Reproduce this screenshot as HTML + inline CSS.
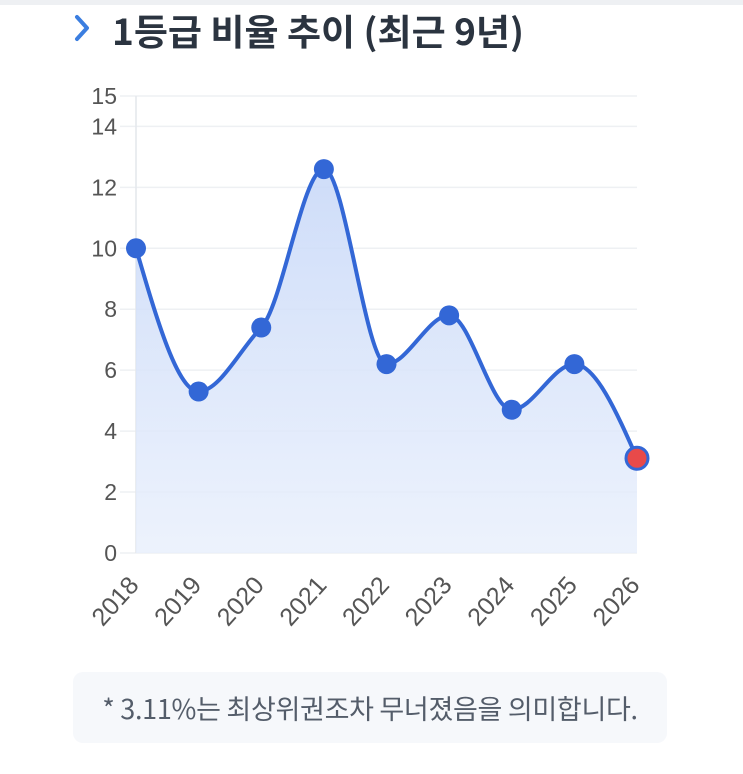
<!DOCTYPE html>
<html><head><meta charset="utf-8"><style>
html,body{margin:0;padding:0;background:#fff;}
body{width:743px;height:774px;overflow:hidden;position:relative;font-family:"Liberation Sans","Noto Sans CJK KR",sans-serif;}
.top{position:absolute;left:0;top:0;width:743px;height:5px;background:#eef0f3;}
.note{position:absolute;left:73px;top:672px;width:594px;height:71px;background:#f6f8fb;border-radius:10px;color:#545d6a;font-size:27px;text-align:center;line-height:71px;font-family:"Noto Sans CJK KR",sans-serif;letter-spacing:-0.3px;white-space:nowrap;}
</style></head><body>
<div class="top"></div>
<svg width="743" height="774" style="position:absolute;left:0;top:0">
<defs><linearGradient id="g" x1="0" y1="0" x2="0" y2="1"><stop offset="0" stop-color="#c9d9f8" stop-opacity="0.9"/><stop offset="1" stop-color="#e8effc" stop-opacity="0.8"/></linearGradient></defs>
<path d="M77 17 L87 28 L77 39" fill="none" stroke="#3b7ee0" stroke-width="4" stroke-linecap="round" stroke-linejoin="round"/>
<text x="112" y="45" font-size="36" font-weight="bold" fill="#2b3440" font-family="Noto Sans CJK KR,sans-serif" textLength="412" lengthAdjust="spacingAndGlyphs">1등급 비율 추이 (최근 9년)</text>
<g id="grid" stroke="#eef0f3" stroke-width="1.5"></g>
<line x1="136" y1="96" x2="136" y2="553" stroke="#e4e7ec" stroke-width="1.5"/>
<path id="area" fill="url(#g)"/>
<path id="line" fill="none" stroke="#3367d6" stroke-width="4"/>
<g id="pts"></g>
<g id="ylab" font-size="23" fill="#555" text-anchor="end"></g>
<g id="xlab" font-size="25" fill="#555" text-anchor="end"></g>
</svg>
<div class="note">* 3.11%는 최상위권조차 무너졌음을 의미합니다.</div>
<script>
var ns="http://www.w3.org/2000/svg";
function Y(v){return 553-v*30.47;}
var vals=[10,5.3,7.4,12.6,6.2,7.8,4.7,6.2,3.11];
var X=[];for(var i=0;i<9;i++)X.push(136+i*62.625);
var P=vals.map(function(v,i){return [X[i],Y(v)];});
var grid=document.getElementById('grid'),yl=document.getElementById('ylab');
[0,2,4,6,8,10,12,14,15].forEach(function(v){
 var l=document.createElementNS(ns,'line');l.setAttribute('x1',120);l.setAttribute('x2',637);l.setAttribute('y1',Y(v));l.setAttribute('y2',Y(v));grid.appendChild(l);
 var t=document.createElementNS(ns,'text');t.setAttribute('x',117);t.setAttribute('y',Y(v)+8);t.textContent=v;yl.appendChild(t);});
var n=P.length,m=[],d=[];
for(i=0;i<n-1;i++)d.push((P[i+1][1]-P[i][1])/(P[i+1][0]-P[i][0]));
for(i=0;i<n;i++){
 if(i==0)m.push(d[0]);else if(i==n-1)m.push(d[n-2]);
 else{ if(d[i-1]*d[i]<=0)m.push(0); else {var a=d[i-1],b=d[i];m.push(Math.sign(a)*Math.min(Math.abs(a),Math.abs(b),Math.abs((a+b)/2)*1.5));}}
}
m[0]=(3*d[0]-m[1])/2; m[n-1]=(3*d[n-2]-m[n-2])/2;
var p="M"+P[0][0]+" "+P[0][1];
for(i=0;i<n-1;i++){var h=(P[i+1][0]-P[i][0])/3;
 p+=" C"+(P[i][0]+h)+" "+(P[i][1]+m[i]*h)+" "+(P[i+1][0]-h)+" "+(P[i+1][1]-m[i+1]*h)+" "+P[i+1][0]+" "+P[i+1][1];}
document.getElementById('line').setAttribute('d',p);
document.getElementById('area').setAttribute('d',p+" L637 553 L136 553 Z");
var pts=document.getElementById('pts'),xl=document.getElementById('xlab');
P.forEach(function(q,i){
 var c=document.createElementNS(ns,'circle');c.setAttribute('cx',q[0]);c.setAttribute('cy',q[1]);
 if(i==8){c.setAttribute('r',11);c.setAttribute('fill','#e84a4a');c.setAttribute('stroke','#3367d6');c.setAttribute('stroke-width',3);}
 else{c.setAttribute('r',10);c.setAttribute('fill','#3367d6');}
 pts.appendChild(c);
 var t=document.createElementNS(ns,'text');var x=q[0]+4,y=586;
 t.setAttribute('x',x);t.setAttribute('y',y);t.setAttribute('transform','rotate(-48 '+x+' '+y+')');t.textContent=2018+i;xl.appendChild(t);});
</script>
</body></html>
